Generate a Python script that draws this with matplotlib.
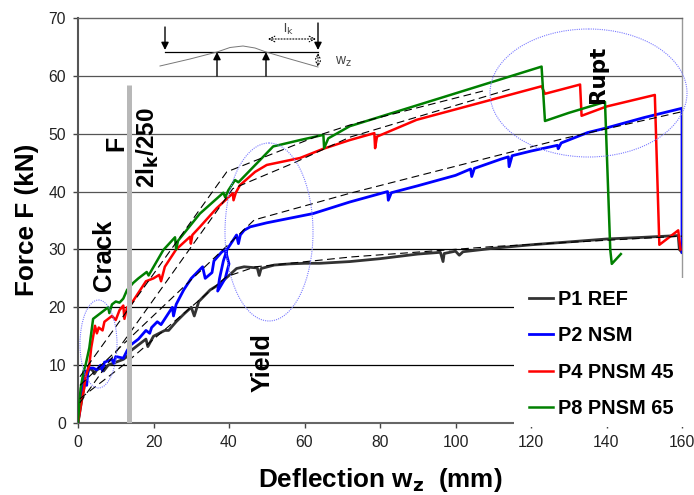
import matplotlib
matplotlib.use("Agg")
import matplotlib.pyplot as plt
from matplotlib.patches import Ellipse, Rectangle
from matplotlib.transforms import Affine2D
from matplotlib.lines import Line2D

FONT = "Liberation Sans"
plt.rcParams['font.family'] = FONT

p1_x = [0,1,2,3,4,4.3,5,6,6.8,8,10,12,13,14,16,18,18.5,20,23,24,26,28,30,30.8,32,35,37,40,42,44,47.5,48,48.5,52,56,60,64,72,80,90,96,96.7,97,100,101,102,110,120,130,140,150,159,159.3,160]
p1_y = [0,4,7.5,9.5,9,8.5,9.2,9.5,9,10,10.5,11,11.5,12.5,13.5,14.5,13.2,15,16,16,17.5,18.8,20,18.5,21,23,23.8,25.5,26.7,27,26.8,25.5,26.7,27.3,27.5,27.6,27.6,27.9,28.4,29.2,29.5,27.9,29.3,29.7,29.0,29.6,30.2,30.8,31.3,31.8,32.1,32.4,30,29.5]
p2_x = [0,.5,1,1.5,2,2.3,2.7,4,5,6,6.5,7,9,9.5,10,12,13,14,16,18,19,19.5,21,22,24,25,25.3,26,28,30,33,33.7,35.5,36,38,39,40,39,37,37.5,38.5,39.5,41,42,42.5,43,44,45.6,50,62.3,72,82,82.2,83,90,100,104,104.3,105,112,114,114.2,115,120,127,127.2,128,135,140,150,160,160]
p2_y = [0,3,5.5,7,9,6.5,9.5,9.5,9.2,10,9,10.5,11,10.3,11.5,11.2,12.5,13.5,14.5,16,15.5,16.5,17.5,17,19,20,18.5,20.5,23,25,27,25,26,28,29.5,30,27.5,25,22.8,25,28,30,31.5,32.5,31,32.5,33.3,33.9,34.6,36.2,38.2,40,38.5,39.8,41,42.8,43.9,42.6,44,45.6,46,44.3,46.2,47,48,47.4,48.4,50.2,51,52.8,54.4,29.5]
p4_x = [0,.5,1,1.5,2,3,3.5,4.5,5,5.5,6.5,7,9,10,11,12,12.3,13,14,16,18,20,21.5,22,23,25,26,29.7,29.9,30.3,32.3,36.7,41,41.2,41.8,42.9,46.9,50,58.8,65,72,78.5,78.7,79.2,89.7,107.4,122.8,123.7,133,133.4,140,152.8,154,159,159.6]
p4_y = [0,2,4,5.5,8,10,13,16.8,15.5,16.5,16,17.5,18.5,17.8,19.5,20.3,18,20,20.5,22.5,24.5,25,25.6,24.5,27,29,30,32.2,31,32.5,33.9,37.1,39.7,38.5,39.8,41.1,43.4,44.6,45.8,47.4,48.9,50.1,47.5,49.5,52.4,55.5,58.2,56.9,58.5,53.1,54.7,56.7,30.8,33.3,30]
p8_x = [0,.3,.7,1.5,2,3,4,5,8,8.3,9,10,11,12,13,14.6,16,18.2,18.7,22.6,25.7,26,26.5,32.3,38.5,39,39.8,41.6,42.5,47.4,51.7,58.8,65,65.2,66.3,72,122.8,123.7,130,139.6,141,141.4,143.8]
p8_y = [0,3,6,9,10,13,18,18.5,20,19,20.5,21,20.8,21.5,23,24.2,25,26.1,25.5,29.9,32.1,30,31.5,36.2,39.8,39,40.2,42,41.6,44.9,47.8,48.9,49.8,47.5,49.2,51.3,61.6,52.2,53.6,55.5,29.9,27.5,29.2]

dash_groups = [
    ([.5,12,39.4,47,72.4,110,160], [4.2,10,25.3,27,28.7,30.5,32.3]),
    ([.5,46.7,72,129.5,160], [6.5,35.1,39.7,49.3,53.8]),
    ([.5,41,57,72,114.9], [3.5,40.5,44.9,49.4,57.8]),
    ([.5,39.4,65,72,108], [8,43.4,50,51.5,57.5]),
]

series = [("P1 REF", "#333333", p1_x, p1_y, 2.0),
          ("P2 NSM", "#0000ff", p2_x, p2_y, 2.0),
          ("P4 PNSM 45", "#ff0000", p4_x, p4_y, 1.8),
          ("P8 PNSM 65", "#008000", p8_x, p8_y, 1.8)]
x_ticks = list(range(0, 161, 20))
y_ticks = list(range(0, 71, 10))

fig = plt.figure(figsize=(6.94, 4.95), dpi=100)
ax = fig.add_axes([78/694, (495-423)/495, 604/694, 405/495])
ax.set_xlim(0, 160); ax.set_ylim(0, 70)
px = Affine2D().scale(1/694, -1/495).translate(0, 1) + fig.transFigure

for y in y_ticks[1:-1]:
    c = "#000000" if y <= 30 else "#555555"
    ax.axhline(y, color=c, lw=0.9, zorder=1)

for name, col, xs, ys, lw in series:
    ax.plot(xs, ys, color=col, lw=lw, zorder=3, solid_joinstyle='round', label=name)
for xs, ys in dash_groups:
    ax.plot(xs, ys, color="black", lw=0.8, ls=(0, (7, 4)), zorder=4)
ax.plot([13.5, 13.5], [0, 58.4], color="#b8b8b8", lw=3.6, zorder=5, solid_capstyle='butt')

ax.set_xticks(x_ticks); ax.set_yticks(y_ticks)
ax.tick_params(labelsize=11.3, length=3.5, width=1, color="#444444", labelcolor="#222222", pad=5)
for s, c, w in [("left", "#555555", 1.5), ("bottom", "#666666", 1.5), ("top", "#666666", 1), ("right", "#999999", 1)]:
    ax.spines[s].set_color(c); ax.spines[s].set_linewidth(w)

ell = dict(transform=px, fill=False, ec="#7b7bff", lw=0.8, ls=(0, (1, 1)), zorder=6, clip_on=False)
for cx, cy, w, h in [(98.5, 344, 37, 88), (269, 232, 88, 178), (588.5, 93, 197, 128)]:
    fig.add_artist(Ellipse((cx, cy), w, h, **ell))

# white panel behind legend
fig.add_artist(Rectangle((514, 278), 180, 149, transform=px, fc="white", ec="none", zorder=7))

def t(x, y, s, size, rot=0, **k):
    k.setdefault("weight", "bold")
    fig.text(x, y, s, transform=px, fontsize=size, rotation=rot, ha="center", va="center", zorder=8, **k)

t(104, 255, "Crack", 18.5, 90)
t(116, 143, "F", 18, 90)
t(148, 148, "2l$_{\\mathbf{k}}$/250", 17.5, 90)
t(263, 363, "Yield", 18, 90)
t(598, 74, "Rupt", 15.5, 90, family="DejaVu Sans")
t(27, 220, "Force F (kN)", 18.8, 90)
t(380, 480, "Deflection w$_{\\mathbf{z}}$  (mm)", 18.8)
t(288, 29, "l$_{\\mathrm{k}}$", 9.5, weight="normal", color="#444444")
t(343, 62, "w$_{\\mathrm{z}}$", 10, weight="normal", color="#444444")

# beam sketch
for xs, ys, c, w in [([165, 318], [52, 52], "black", 0.9),
                     ([160, 190, 217, 230, 243, 255, 266, 290, 318], [66, 59, 52, 47.5, 46, 48, 52, 59, 67], "#777777", 0.7)]:
    fig.add_artist(Line2D(xs, ys, transform=px, color=c, lw=w, zorder=8))
def arrow(a, b, style="-|>", ls="-", lw=1.0, head=11):
    ax.annotate("", xy=b, xytext=a, xycoords=px, textcoords=px, annotation_clip=False, zorder=8,
                arrowprops=dict(arrowstyle=style, color="black", lw=lw, ls=ls, shrinkA=0, shrinkB=0, mutation_scale=head))
arrow((165, 27), (165, 50)); arrow((318, 23), (318, 50))
arrow((217, 76), (217, 52)); arrow((266, 76), (266, 52))
arrow((268, 39), (316, 39), "<->", ":", 0.8, 10)
arrow((318, 53), (318, 67), "<->", ":", 0.8, 9)

leg = fig.legend(*ax.get_legend_handles_labels(), loc="upper left", bbox_to_anchor=(529/694, 1-290/495),
                 frameon=False, prop=dict(family=FONT, weight="bold", size=14.4),
                 handlelength=1.2, handletextpad=0.25, labelspacing=0.87, borderpad=0, borderaxespad=0)
leg.set_zorder(9)
fig.savefig("out.png", dpi=100)
